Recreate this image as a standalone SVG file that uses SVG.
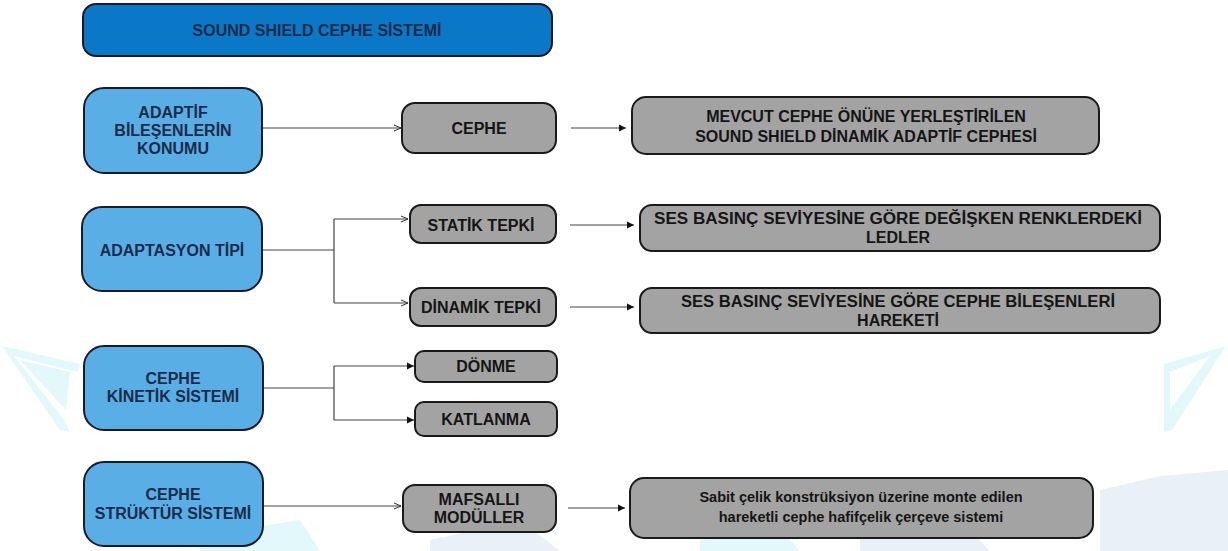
<svg xmlns="http://www.w3.org/2000/svg" width="1228" height="551" viewBox="0 0 1228 551">
<style>
.title{fill:#0a78c6;stroke:#1a1a2a;stroke-width:2}
.blue{fill:#5aaee6;stroke:#1a1a2a;stroke-width:2}
.gray{fill:#a3a3a3;stroke:#1a1a1a;stroke-width:2}
text{font-family:"Liberation Sans",Arial,sans-serif;font-weight:bold;font-size:16px;text-anchor:middle;dominant-baseline:central}
.sm{font-size:14.5px}
.tb{fill:#1c2b4a}
.tg{fill:#151515}
.conn{fill:none;stroke:#444;stroke-width:1.2}
.wm{fill:#e2f8fb;stroke:none}
.wm2{fill:#eaf0f8;stroke:none}
</style>
<defs>
<marker id="ah" markerWidth="8" markerHeight="8" refX="7" refY="4" orient="auto" markerUnits="userSpaceOnUse">
<path d="M0,0.5 L7,4 L0,7.5 Z" fill="#111"/>
</marker>
<marker id="ao" markerWidth="8" markerHeight="8" refX="7" refY="4" orient="auto" markerUnits="userSpaceOnUse">
<path d="M0,1 L7,4 L0,7" fill="none" stroke="#333" stroke-width="1"/>
</marker>
</defs>
<rect width="1228" height="551" fill="#ffffff"/>
<g id="watermark">
<path class="wm" d="M2,346 L80,364 L78,372 L14,356 L64,420 L70,432 L60,430 Z"/>
<path class="wm" d="M20,360 L70,372 L66,410 Z"/>
<path class="wm" d="M1226,346 L1164,364 L1164,432 L1172,430 Z"/>
<path d="M1210,356 L1170,372 L1170,410 Z" fill="#ffffff"/>
<path class="wm2" d="M1100,490 L1160,476 L1228,470 L1228,551 L1100,551 Z"/>
<path class="wm" d="M200,536 L300,520 L320,551 L200,551 Z"/>
<path class="wm2" d="M430,540 L520,520 L560,551 L430,551 Z"/>
<path class="wm" d="M700,540 L780,528 L800,551 L700,551 Z"/>
<path class="wm2" d="M860,536 L960,520 L990,551 L860,551 Z"/>
</g>
<g id="connectors">
<path class="conn" d="M263,128 H401" marker-end="url(#ao)"/>
<path class="conn" d="M571,128 H626" marker-end="url(#ah)"/>
<path class="conn" d="M263,250 H334 M334,219 V303"/>
<path class="conn" d="M334,219 H408" marker-end="url(#ao)"/>
<path class="conn" d="M334,303 H408" marker-end="url(#ao)"/>
<path class="conn" d="M570,225 H634" marker-end="url(#ah)"/>
<path class="conn" d="M570,307 H634" marker-end="url(#ah)"/>
<path class="conn" d="M264,388 H334 M334,366 V420"/>
<path class="conn" d="M334,366 H414" marker-end="url(#ah)"/>
<path class="conn" d="M334,420 H414" marker-end="url(#ah)"/>
<path class="conn" d="M264,506 H401" marker-end="url(#ao)"/>
<path class="conn" d="M568,508 H625" marker-end="url(#ah)"/>
</g>
<g id="title">
<rect class="title" x="83" y="4" width="469" height="52" rx="13"/>
<text class="tb" x="317" y="30">SOUND SHIELD CEPHE SİSTEMİ</text>
</g>
<g id="adaptif">
<rect class="blue" x="84" y="88" width="178" height="85" rx="20"/>
<text class="tb" x="173" y="112">ADAPTİF</text>
<text class="tb" x="173" y="130">BİLEŞENLERİN</text>
<text class="tb" x="173" y="148">KONUMU</text>
</g>
<g id="cephe">
<rect class="gray" x="402" y="103" width="154" height="50" rx="13"/>
<text class="tg" x="479" y="128">CEPHE</text>
</g>
<g id="mevcut">
<rect class="gray" x="632" y="97" width="467" height="57" rx="14"/>
<text class="tg" x="866" y="116">MEVCUT CEPHE ÖNÜNE YERLEŞTİRİLEN</text>
<text class="tg" x="866" y="136">SOUND SHIELD DİNAMİK ADAPTİF CEPHESİ</text>
</g>
<g id="adaptasyon">
<rect class="blue" x="82" y="207" width="180" height="84" rx="20"/>
<text class="tb" x="172" y="250">ADAPTASYON TİPİ</text>
</g>
<g id="statik">
<rect class="gray" x="410" y="205" width="146" height="38" rx="11"/>
<text class="tg" x="481" y="225">STATİK TEPKİ</text>
</g>
<g id="dinamik">
<rect class="gray" x="410" y="288" width="146" height="38" rx="11"/>
<text class="tg" x="481" y="307">DİNAMİK TEPKİ</text>
</g>
<g id="ses1">
<rect class="gray" x="640" y="205" width="520" height="46" rx="12"/>
<text class="tg" x="898" y="218" textLength="488" lengthAdjust="spacingAndGlyphs">SES BASINÇ SEVİYESİNE GÖRE DEĞİŞKEN RENKLERDEKİ</text>
<text class="tg" x="898" y="237">LEDLER</text>
</g>
<g id="ses2">
<rect class="gray" x="640" y="288" width="520" height="45" rx="12"/>
<text class="tg" x="898" y="301" textLength="434" lengthAdjust="spacingAndGlyphs">SES BASINÇ SEVİYESİNE GÖRE CEPHE BİLEŞENLERİ</text>
<text class="tg" x="898" y="320">HAREKETİ</text>
</g>
<g id="kinetik">
<rect class="blue" x="84" y="346" width="179" height="84" rx="20"/>
<text class="tb" x="173" y="378">CEPHE</text>
<text class="tb" x="173" y="396">KİNETİK SİSTEMİ</text>
</g>
<g id="donme">
<rect class="gray" x="415" y="351" width="142" height="31" rx="9"/>
<text class="tg" x="486" y="366">DÖNME</text>
</g>
<g id="katlanma">
<rect class="gray" x="415" y="402" width="142" height="34" rx="9"/>
<text class="tg" x="486" y="419">KATLANMA</text>
</g>
<g id="struktur">
<rect class="blue" x="84" y="462" width="179" height="84" rx="20"/>
<text class="tb" x="173" y="494">CEPHE</text>
<text class="tb" x="173" y="513">STRÜKTÜR SİSTEMİ</text>
</g>
<g id="mafsalli">
<rect class="gray" x="403" y="485" width="153" height="47" rx="12"/>
<text class="tg" x="479" y="499">MAFSALLI</text>
<text class="tg" x="479" y="517">MODÜLLER</text>
</g>
<g id="sabit">
<rect class="gray" x="630" y="478" width="463" height="60" rx="14"/>
<text class="tg sm" x="861" y="497">Sabit çelik konstrüksiyon üzerine monte edilen</text>
<text class="tg sm" x="861" y="517">hareketli cephe hafifçelik çerçeve sistemi</text>
</g>
</svg>
